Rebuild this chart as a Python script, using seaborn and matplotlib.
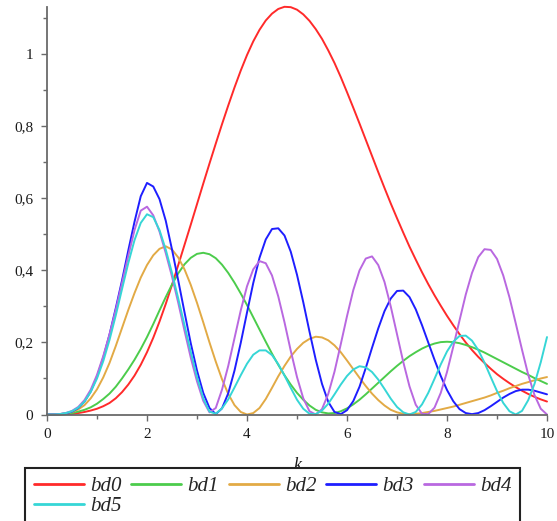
import numpy as np
import pandas as pd
import matplotlib
matplotlib.use("Agg")
import matplotlib.pyplot as plt
from matplotlib.ticker import FixedLocator
import seaborn as sns

# sample points along k (step 0.125)
k = np.linspace(0, 10, 81)

bd0 = [0, 0, 0, 0.001, 0.002, 0.004, 0.007, 0.011,
       0.016, 0.023, 0.032, 0.045, 0.062, 0.083, 0.108, 0.138,
       0.173, 0.213, 0.258, 0.307, 0.36, 0.415, 0.471, 0.527,
       0.584, 0.641, 0.697, 0.752, 0.806, 0.858, 0.908, 0.955,
       0.998, 1.036, 1.068, 1.094, 1.113, 1.126, 1.132, 1.131,
       1.124, 1.111, 1.093, 1.07, 1.043, 1.011, 0.976, 0.937,
       0.895, 0.852, 0.808, 0.763, 0.718, 0.673, 0.629, 0.586,
       0.545, 0.505, 0.466, 0.43, 0.395, 0.362, 0.331, 0.302,
       0.274, 0.248, 0.223, 0.2, 0.179, 0.16, 0.143, 0.127,
       0.112, 0.099, 0.087, 0.076, 0.066, 0.057, 0.049, 0.042,
       0.036]

bd1 = [0, 0, 0, 0.001, 0.004, 0.008, 0.013, 0.02,
       0.03, 0.043, 0.058, 0.077, 0.1, 0.125, 0.152, 0.182,
       0.215, 0.251, 0.289, 0.326, 0.361, 0.392, 0.417, 0.435,
       0.446, 0.449, 0.445, 0.434, 0.416, 0.393, 0.366, 0.336,
       0.304, 0.27, 0.236, 0.202, 0.169, 0.138, 0.109, 0.083,
       0.06, 0.041, 0.025, 0.013, 0.006, 0.003, 0.004, 0.009,
       0.017, 0.028, 0.041, 0.056, 0.072, 0.088, 0.104, 0.12,
       0.135, 0.149, 0.162, 0.173, 0.183, 0.191, 0.197, 0.201,
       0.202, 0.201, 0.198, 0.193, 0.187, 0.18, 0.172, 0.163,
       0.154, 0.145, 0.136, 0.127, 0.118, 0.11, 0.101, 0.093,
       0.085]

bd2 = [0, 0, 0.001, 0.003, 0.007, 0.014, 0.026, 0.045,
       0.07, 0.103, 0.143, 0.19, 0.24, 0.29, 0.337, 0.38,
       0.415, 0.442, 0.46, 0.467, 0.458, 0.436, 0.403, 0.36,
       0.31, 0.256, 0.2, 0.147, 0.098, 0.057, 0.026, 0.007,
       0.0, 0.004, 0.018, 0.043, 0.074, 0.106, 0.135, 0.161,
       0.182, 0.199, 0.21, 0.216, 0.214, 0.206, 0.192, 0.173,
       0.15, 0.126, 0.102, 0.079, 0.058, 0.04, 0.025, 0.013,
       0.006, 0.002, 0.001, 0.002, 0.004, 0.007, 0.01, 0.014,
       0.018, 0.022, 0.027, 0.032, 0.037, 0.042, 0.047, 0.053,
       0.06, 0.066, 0.073, 0.079, 0.085, 0.09, 0.095, 0.1,
       0.104]

bd3 = [0, 0, 0.001, 0.003, 0.008, 0.018, 0.036, 0.064,
       0.105, 0.158, 0.222, 0.295, 0.372, 0.455, 0.535, 0.606,
       0.643, 0.633, 0.598, 0.538, 0.458, 0.372, 0.284, 0.198,
       0.122, 0.06, 0.018, 0.001, 0.017, 0.059, 0.122, 0.199,
       0.283, 0.365, 0.435, 0.486, 0.515, 0.517, 0.497, 0.452,
       0.388, 0.312, 0.23, 0.152, 0.085, 0.035, 0.007, 0.001,
       0.012, 0.037, 0.077, 0.129, 0.185, 0.239, 0.287, 0.322,
       0.343, 0.344, 0.326, 0.292, 0.248, 0.2, 0.152, 0.107,
       0.068, 0.037, 0.015, 0.004, 0.001, 0.004, 0.012, 0.023,
       0.035, 0.047, 0.057, 0.065, 0.069, 0.069, 0.066, 0.061,
       0.056]

bd4 = [0, 0, 0.001, 0.004, 0.01, 0.021, 0.04, 0.069,
       0.11, 0.162, 0.222, 0.29, 0.365, 0.44, 0.512, 0.566,
       0.577, 0.553, 0.508, 0.448, 0.383, 0.31, 0.233, 0.158,
       0.092, 0.038, 0.006, 0.018, 0.069, 0.135, 0.212, 0.289,
       0.356, 0.403, 0.426, 0.42, 0.386, 0.328, 0.256, 0.177,
       0.104, 0.045, 0.009, 0.0, 0.015, 0.057, 0.119, 0.195,
       0.273, 0.345, 0.40, 0.433, 0.439, 0.415, 0.368, 0.30,
       0.223, 0.146, 0.078, 0.027, 0.002, 0.001, 0.019, 0.06,
       0.118, 0.188, 0.261, 0.333, 0.393, 0.437, 0.459, 0.457,
       0.432, 0.386, 0.325, 0.253, 0.18, 0.11, 0.054, 0.016,
       0.0]

bd5 = [0, 0, 0.001, 0.004, 0.009, 0.019, 0.036, 0.063,
       0.1, 0.148, 0.207, 0.275, 0.348, 0.42, 0.484, 0.532,
       0.556, 0.548, 0.512, 0.458, 0.393, 0.322, 0.248, 0.174,
       0.104, 0.045, 0.008, 0.002, 0.017, 0.042, 0.075, 0.109,
       0.141, 0.166, 0.178, 0.178, 0.165, 0.14, 0.108, 0.074,
       0.041, 0.016, 0.002, 0.001, 0.011, 0.03, 0.056, 0.083,
       0.107, 0.125, 0.134, 0.131, 0.118, 0.097, 0.071, 0.044,
       0.021, 0.006, 0.0, 0.007, 0.028, 0.06, 0.099, 0.139,
       0.175, 0.202, 0.218, 0.219, 0.205, 0.179, 0.144, 0.104,
       0.065, 0.032, 0.009, 0.0, 0.01, 0.04, 0.085, 0.145,
       0.215]

curve_names = ["bd0", "bd1", "bd2", "bd3", "bd4", "bd5"]
curve_values = [bd0, bd1, bd2, bd3, bd4, bd5]
curve_colors = {"bd0": "#ff2a2a", "bd1": "#4ccc4c", "bd2": "#e2aa45",
                "bd3": "#1e1eff", "bd4": "#b968e0", "bd5": "#36d6d6"}

xtick_values = [0, 2, 4, 6, 8, 10]
xtick_labels = ["0", "2", "4", "6", "8", "10"]
ytick_values = [0, 0.2, 0.4, 0.6, 0.8, 1.0]
ytick_labels = ["0", "0,2", "0,4", "0,6", "0,8", "1"]

df = pd.DataFrame({
    "k": np.tile(k, len(curve_names)),
    "value": np.concatenate(curve_values),
    "curve": np.repeat(curve_names, len(k)),
})

sns.set_theme(style="white")
plt.rcParams["font.family"] = ["Liberation Serif", "DejaVu Serif"]

W, H = 557, 521
fig = plt.figure(figsize=(W / 100, H / 100), dpi=100)
x0, x1 = 47, 547
y_bottom, y_top = 414.5, 6.8
ax = fig.add_axes([x0 / W, 1 - y_bottom / H, (x1 - x0) / W, (y_bottom - y_top) / H])

sns.lineplot(data=df, x="k", y="value", hue="curve", hue_order=curve_names,
             palette=curve_colors, linewidth=1.4, estimator=None, sort=False, ax=ax)
for line in ax.lines:
    line.set_clip_on(False)
    line.set_solid_joinstyle("round")

ax.set_xlim(0, 10)
ax.set_ylim(0, 1.132)

axis_color = "#6a6a6a"
for side in ("top", "right"):
    ax.spines[side].set_visible(False)
for side in ("left", "bottom"):
    ax.spines[side].set_color(axis_color)
    ax.spines[side].set_linewidth(1.3)

ax.set_xticks(xtick_values)
ax.set_xticklabels(xtick_labels)
ax.set_yticks(ytick_values)
ax.set_yticklabels(ytick_labels)
ax.xaxis.set_minor_locator(FixedLocator([1, 3, 5, 7, 9]))
ax.yaxis.set_minor_locator(FixedLocator([0.1, 0.3, 0.5, 0.7, 0.9, 1.1]))
ax.tick_params(which="major", direction="out", length=4.5, width=1.0,
               color=axis_color, labelsize=11, labelcolor="#1a1a1a", pad=5.5,
               bottom=True, left=True)
ax.tick_params(which="minor", direction="out", length=2.8, width=1.0,
               color=axis_color, bottom=True, left=True)
ax.grid(False)

ax.set_ylabel("")
ax.set_xlabel("k", fontsize=13, fontstyle="italic", color="#1a1a1a")
ax.xaxis.set_label_coords(0.5, -0.105)

# legend: reorder so the column-major fill reads row by row
leg = ax.get_legend()
handles = list(leg.legend_handles)
labels = [t.get_text() for t in leg.get_texts()]
leg.remove()
order = [0, 5, 1, 2, 3, 4]
for h in handles:
    h.set_linewidth(2.0)
fleg = fig.legend([handles[i] for i in order], [labels[i] for i in order],
                  loc="upper left", bbox_to_anchor=(25 / W, 1 - 467.5 / H),
                  bbox_transform=fig.transFigure, ncol=5,
                  prop={"family": "Liberation Serif", "style": "italic", "size": 15},
                  handlelength=2.4, handletextpad=0.3, columnspacing=0.47,
                  labelspacing=0.05, borderpad=0.42, borderaxespad=0,
                  fancybox=False, framealpha=1, edgecolor="#222222")
fleg.get_frame().set_linewidth(1.5)

fig.savefig("out.png", dpi=100)
